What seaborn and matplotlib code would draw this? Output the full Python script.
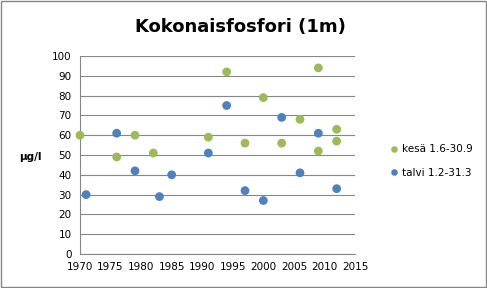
import matplotlib
matplotlib.use("Agg")
import matplotlib.pyplot as plt
import seaborn as sns
import pandas as pd

kesa_years = [1970, 1976, 1979, 1982, 1991, 1994, 1997, 2000, 2003, 2006, 2009, 2009, 2012, 2012]
kesa_values = [60, 49, 60, 51, 59, 92, 56, 79, 56, 68, 94, 52, 63, 57]
talvi_years = [1971, 1976, 1979, 1983, 1985, 1991, 1994, 1997, 2000, 2003, 2006, 2009, 2012]
talvi_values = [30, 61, 42, 29, 40, 51, 75, 32, 27, 69, 41, 61, 33]
series_names = ["kesä 1.6-30.9", "talvi 1.2-31.3"]
x_ticks = list(range(1970, 2016, 5))
y_ticks = list(range(0, 101, 10))

df = pd.concat([
    pd.DataFrame({"vuosi": kesa_years, "arvo": kesa_values, "sarja": series_names[0]}),
    pd.DataFrame({"vuosi": talvi_years, "arvo": talvi_values, "sarja": series_names[1]}),
])

sns.set_style("white")
plt.rcParams["font.family"] = ["DejaVu Sans"]
plt.rcParams["text.color"] = "black"
plt.rcParams["xtick.color"] = "black"
plt.rcParams["ytick.color"] = "black"
plt.rcParams["axes.labelcolor"] = "black"

fig = plt.figure(figsize=(4.87, 2.88), dpi=100)
ax = fig.add_axes([80/487, 1-254/288, (355-80)/487, (254-56)/288])

sns.scatterplot(data=df, x="vuosi", y="arvo", hue="sarja",
                palette={series_names[0]: "#9BBB59", series_names[1]: "#4F81BD"},
                s=40, edgecolor="none", ax=ax, zorder=3, clip_on=False)

ax.set_xlim(1970, 2015)
ax.set_ylim(0, 100)
ax.set_xticks(x_ticks)
ax.set_yticks(y_ticks)
ax.tick_params(axis="both", labelsize=7.5, length=4, direction="out", color="#868686", pad=2)
ax.grid(axis="y", color="#868686", linewidth=0.8)
ax.set_axisbelow(True)
for side in ["top", "right"]:
    ax.spines[side].set_visible(False)
for side in ["left", "bottom"]:
    ax.spines[side].set_color("#868686")
    ax.spines[side].set_linewidth(0.8)
ax.set_xlabel("")
ax.set_ylabel("µg/l", rotation=0, fontsize=7.5, fontweight="bold", va="center")
ax.yaxis.set_label_coords(-0.18, 0.49)

fig.text(240/487, 1-27/288, "Kokonaisfosfori (1m)", ha="center", va="center",
         fontsize=13, fontweight="bold", color="black")

leg = ax.legend(loc="center left", bbox_to_anchor=(1.07, 0.47), frameon=False,
                fontsize=7.5, handletextpad=-0.2, labelspacing=1.3, markerscale=0.75)
for t in leg.get_texts():
    t.set_color("black")

fig.patches.append(plt.Rectangle((0.002, 0.003), 0.996, 0.994, transform=fig.transFigure,
                                 fill=False, edgecolor="#868686", linewidth=1))
fig.savefig("out.png", dpi=100)
